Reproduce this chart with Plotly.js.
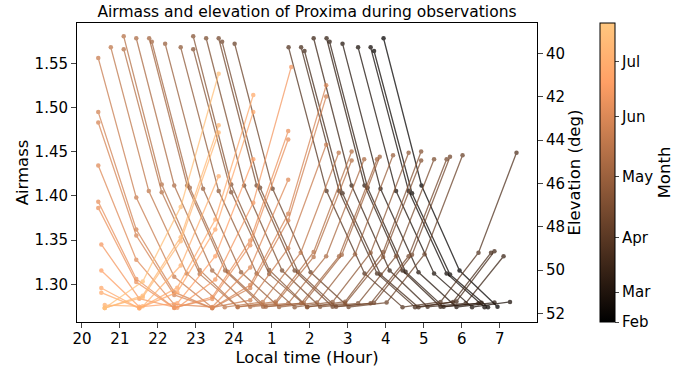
<!DOCTYPE html>
<html>
<head>
<meta charset="utf-8">
<script src="https://cdn.plot.ly/plotly-3.0.1.min.js"></script>
<style>html,body{margin:0;padding:0;background:#fff;}#chart{width:688px;height:369px;}</style>
</head>
<body>
<div id="chart"></div>
<script>
// Local time of each observation (hours; values > 24 are after midnight)
const nightTimes = [
  [27.94,28.94,29.94,30.94],
  [27.69,28.69,29.69,30.69],
  [27.60,28.60,29.60,30.60],
  [27.27,28.27,29.27,30.27,31.27],
  [26.86,27.86,28.86,29.86,30.86],
  [26.52,27.52,28.52,29.52,30.52],
  [26.44,27.44,28.44,29.44,30.44],
  [26.10,27.10,28.10,29.10,30.10,31.10],
  [25.86,26.86,27.86,28.86,29.86,30.86],
  [25.77,26.77,27.77,28.77,29.77,30.77],
  [25.44,26.44,27.44,28.44,29.44,30.44,31.44],
  [24.02,25.02,26.02,27.02,28.02,29.02,30.02],
  [23.69,24.69,25.69,26.69,27.69,28.69,29.69],
  [23.60,24.60,25.60,26.60,27.60,28.60,29.60],
  [23.27,24.27,25.27,26.27,27.27,28.27,29.27],
  [22.93,23.93,24.93,25.93,26.93,27.93,28.93],
  [22.93,23.93,24.93,25.93,26.93,27.93,28.93],
  [22.60,23.60,24.60,25.60,26.60,27.60,28.60],
  [22.19,23.19,24.19,25.19,26.19,27.19,28.19],
  [21.84,22.84,23.84,24.84,25.84,26.84,27.84],
  [21.77,22.77,23.77,24.77,25.77,26.77,27.77],
  [21.43,22.43,23.43,24.43,25.43,26.43,27.43],
  [21.10,22.10,23.10,24.10,25.10,26.10,27.10],
  [21.10,22.10,23.10,24.10,25.10,26.10,27.10],
  [20.76,21.76,22.76,23.76,24.76,25.76,26.76],
  [20.43,21.43,22.43,23.43,24.43,25.43,26.43],
  [20.43,21.43,22.43,23.43,24.43,25.43,26.43],
  [20.43,21.43,22.43,23.43,24.43,25.43,26.43],
  [20.43,21.43,22.43,23.43,24.43,25.43],
  [20.43,21.43,22.43,23.43,24.43,25.43],
  [20.43,21.43,22.43,23.43,24.43,25.43],
  [20.51,21.51,22.51,23.51,24.51,25.51],
  [20.51,21.51,22.51,23.51,24.51],
  [20.51,21.51,22.51,23.51,24.51],
  [20.51,21.51,22.51,23.51,24.51],
  [20.60,21.60,22.60,23.60],
  [20.60,21.60,22.60,23.60],
  [20.60,21.60,22.60,23.60],
  [20.60,21.60,22.60,23.60]
];
// Airmass of each observation
const nightAirmass = [
  [1.5783,1.4118,1.3157,1.2747],
  [1.5638,1.4030,1.3111,1.2742],
  [1.5680,1.4055,1.3124,1.2743],
  [1.5680,1.4055,1.3124,1.2743,1.2802],
  [1.5721,1.4080,1.3137,1.2745,1.2795],
  [1.5742,1.4093,1.3144,1.2746,1.2792],
  [1.5783,1.4118,1.3157,1.2747,1.2786],
  [1.5783,1.4118,1.3157,1.2747,1.2786,1.3318],
  [1.5638,1.4030,1.3111,1.2742,1.2808,1.3375],
  [1.5680,1.4055,1.3124,1.2743,1.2802,1.3359],
  [1.5680,1.4055,1.3124,1.2743,1.2802,1.3359,1.4488],
  [1.5721,1.4080,1.3137,1.2745,1.2795,1.3342,1.4459],
  [1.5742,1.4093,1.3144,1.2746,1.2792,1.3334,1.4444],
  [1.5783,1.4118,1.3157,1.2747,1.2786,1.3318,1.4415],
  [1.5783,1.4118,1.3157,1.2747,1.2786,1.3318,1.4415],
  [1.5659,1.4043,1.3118,1.2743,1.2805,1.3367,1.4503],
  [1.5804,1.4130,1.3163,1.2748,1.2783,1.3310,1.4400],
  [1.5680,1.4055,1.3124,1.2743,1.2802,1.3359,1.4488],
  [1.5721,1.4080,1.3137,1.2745,1.2795,1.3342,1.4459],
  [1.5742,1.4093,1.3144,1.2746,1.2792,1.3334,1.4444],
  [1.5783,1.4118,1.3157,1.2747,1.2786,1.3318,1.4415],
  [1.5783,1.4118,1.3157,1.2747,1.2786,1.3318,1.4415],
  [1.5659,1.4043,1.3118,1.2743,1.2805,1.3367,1.4503],
  [1.5804,1.4130,1.3163,1.2748,1.2783,1.3310,1.4400],
  [1.5680,1.4055,1.3124,1.2743,1.2802,1.3359,1.4488],
  [1.5558,1.3981,1.3086,1.2739,1.2821,1.3408,1.4578],
  [1.4948,1.3621,1.2912,1.2731,1.2959,1.3723,1.5123],
  [1.4831,1.3552,1.2881,1.2732,1.2994,1.3798,1.5250],
  [1.4344,1.3280,1.2773,1.2745,1.3191,1.4182],
  [1.3934,1.3062,1.2737,1.2835,1.3443,1.4639],
  [1.3865,1.3027,1.2734,1.2857,1.3497,1.4733],
  [1.3452,1.2839,1.2736,1.3056,1.3922,1.5459],
  [1.3157,1.2747,1.2786,1.3318,1.4415],
  [1.2959,1.2731,1.2912,1.3621,1.4948],
  [1.2907,1.2731,1.2963,1.3734,1.5140],
  [1.2766,1.2752,1.3213,1.4222],
  [1.2734,1.2853,1.3487,1.4717],
  [1.2733,1.2873,1.3534,1.4798],
  [1.2734,1.3032,1.3876,1.5381]
];
// Position of each night on the month colour scale (0 = Feb ... 1 = end of Jul)
const nightMonth = [0.02,0.05,0.06,0.09,0.12,0.15,0.16,0.19,0.22,0.23,0.26,
  0.34,0.36,0.37,0.39,0.42,0.42,0.45,0.48,0.51,0.51,0.54,0.57,0.57,0.60,0.63,
  0.66,0.67,0.70,0.73,0.74,0.77,0.81,0.85,0.86,0.89,0.93,0.93,0.97];

const xTickVals = [20,21,22,23,24,25,26,27,28,29,30,31];
const xTickLabels = ['20','21','22','23','24','1','2','3','4','5','6','7'];
const yTickVals = [1.30,1.35,1.40,1.45,1.50,1.55];
const elevTickVals = [40,42,44,46,48,50,52];
const monthTickVals = [0,0.10,0.281,0.487,0.687,0.87];
const monthLabels = ['Feb','Mar','Apr','May','Jun','Jul'];

function copper(c){
  const r = Math.min(1, 1.25*c)*255, g = 0.7812*c*255, b = 0.4975*c*255;
  return 'rgb(' + Math.round(r) + ',' + Math.round(g) + ',' + Math.round(b) + ')';
}
const copperScale = [[0,'rgb(0,0,0)'],[0.8,'rgb(255,159,101)'],[1,'rgb(255,199,127)']];

const traces = nightTimes.map((t,i) => ({
  type:'scatter', mode:'lines+markers', x:t, y:nightAirmass[i],
  line:{color:copper(nightMonth[i]), width:1.3},
  marker:{color:copper(nightMonth[i]), size:4.5},
  opacity:0.75, hoverinfo:'skip', showlegend:false
}));
traces.push({type:'scatter', mode:'markers', x:[null,null], y:[null,null], yaxis:'y2',
  marker:{color:[0,1], cmin:0, cmax:1, colorscale:copperScale, showscale:true,
    colorbar:{x:1.137, xanchor:'left', y:0.5, yanchor:'middle', len:1, lenmode:'fraction',
      thickness:15, thicknessmode:'pixels', xpad:0, ypad:0, outlinewidth:1, outlinecolor:'black',
      tickvals:monthTickVals, ticktext:monthLabels, ticks:'outside', ticklen:4,
      tickfont:{size:15}, title:{text:'Month', side:'right', font:{size:16.5}}}},
  hoverinfo:'skip', showlegend:false});

const layout = {
  width:688, height:369,
  margin:{l:77, r:151, t:23, b:47},
  paper_bgcolor:'white', plot_bgcolor:'white',
  font:{family:'DejaVu Sans, sans-serif', size:15, color:'black'},
  title:{text:'Airmass and elevation of Proxima during observations', x:0.5, xref:'paper',
    y:1-12/369, yref:'container', yanchor:'middle', font:{size:15.5}},
  showlegend:false,
  xaxis:{range:[19.87,31.98], tickvals:xTickVals, ticktext:xTickLabels, ticks:'outside', ticklen:5,
    ticklabelstandoff:-2,
    showline:true, mirror:true, linecolor:'black', linewidth:1, showgrid:false, zeroline:false,
    title:{text:'Local time (Hour)', standoff:1, font:{size:16.5}}},
  yaxis:{range:[1.2575,1.5955], tickvals:yTickVals, tickformat:'.2f', ticks:'outside', ticklen:5,
    showline:true, linecolor:'black', linewidth:1, showgrid:false, zeroline:false,
    title:{text:'Airmass', standoff:1, font:{size:16.5}}},
  yaxis2:{overlaying:'y', side:'right', range:[52.39,38.59], tickvals:elevTickVals, ticks:'outside', ticklen:5,
    showline:true, linecolor:'black', linewidth:1, showgrid:false, zeroline:false,
    title:{text:'Elevation (deg)', standoff:3, font:{size:16.5}}}
};
Plotly.newPlot('chart', traces, layout, {displayModeBar:false, staticPlot:true});
</script>
</body>
</html>
